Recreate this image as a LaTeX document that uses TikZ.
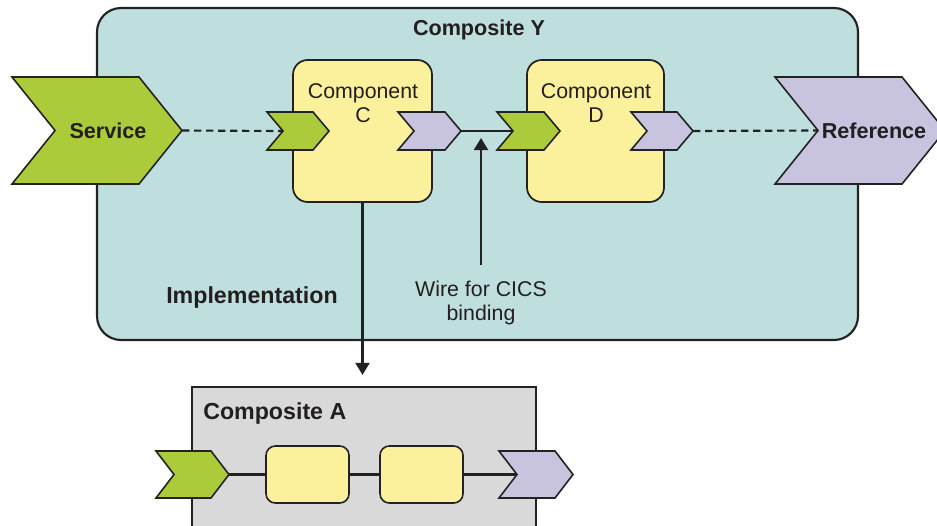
\documentclass[tikz,border=0pt]{standalone}
\usepackage{fontspec}
\setmainfont{Liberation Sans}
\usetikzlibrary{arrows.meta,calc}
\definecolor{cTeal}{HTML}{BFDFDE}
\definecolor{cGreen}{HTML}{ACCB3B}
\definecolor{cPurple}{HTML}{C8C4E0}
\definecolor{cYellow}{HTML}{FBF09C}
\definecolor{cGray}{HTML}{D9D9D9}
\definecolor{cLine}{HTML}{222222}
\definecolor{cText}{HTML}{231F20}
\newcommand\regtext{\fontsize{16}{17.5}\selectfont}
\newcommand\boldtext{\fontsize{16.2}{19}\selectfont\bfseries}
\newcommand\bigboldtext{\fontsize{17.4}{19}\selectfont\bfseries}
% name, x(left), y(center), width, height, point depth, colour
\newcommand\chevron[7]{%
  \filldraw[chevstyle, fill=#7]
    (#2,#3-#5/2) -- (#2+#4-#6,#3-#5/2) -- (#2+#4,#3) --
    (#2+#4-#6,#3+#5/2) -- (#2,#3+#5/2) -- (#2+#6,#3) -- cycle;
  \coordinate (#1-in) at (#2+#6,#3);
  \coordinate (#1-out) at (#2+#4,#3);
}
\tikzset{
  chevstyle/.style={draw=cLine, line width=1.2pt, line join=miter},
  outerbox/.style={draw=cLine, line width=1.6pt, fill=cTeal, rounded corners=18pt},
  graybox/.style={draw=cLine, line width=1.2pt, fill=cGray},
  compbox/.style={draw=cLine, line width=1.3pt, fill=cYellow, rounded corners=11pt, inner sep=0pt},
  smallbox/.style={draw=cLine, line width=1.2pt, fill=cYellow, rounded corners=7pt, inner sep=0pt},
  wire/.style={draw=cLine, line width=1.6pt},
  dashwire/.style={draw=cLine, line width=1.6pt, dash pattern=on 5.6pt off 3.4pt},
  arr/.style={draw=cLine, line width=1.6pt, -{Triangle[length=9pt,width=10.5pt]}},
  reglbl/.style={text=cText, font=\regtext, align=center, inner sep=0pt},
  boldlbl/.style={text=cText, font=\boldtext, align=center, inner sep=0pt},
  bigboldlbl/.style={text=cText, font=\bigboldtext, align=center, inner sep=0pt},
}
\begin{document}
\begin{tikzpicture}[x=0.75pt, y=-0.75pt]
\clip (0,0) rectangle (937,525);
\useasboundingbox (0,0) rectangle (937,525);

% Composite Y
\node[outerbox, minimum width=570.75pt, minimum height=249pt] (Y) at (477.5,174) {};
\node[boldlbl] (Ylbl) at (479,30) {Composite Y};

% Components
\node[compbox, minimum width=104.25pt, minimum height=106.5pt] (C) at (362.5,131) {};
\node[compbox, minimum width=102.75pt, minimum height=106.5pt] (D) at (595.5,131) {};
\node[reglbl] (Clbl) at (363,103) {Component\\C};
\node[reglbl] (Dlbl) at (596,103) {Component\\D};

% Composite A
\node[graybox, minimum width=258pt, minimum height=120pt] (A) at (364,467) {};
\node[bigboldlbl, anchor=west] (Albl) at (203,413) {Composite A};
\node[smallbox, minimum width=62.25pt, minimum height=42.75pt] (A1) at (307.5,474.5) {};
\node[smallbox, minimum width=62.25pt, minimum height=42.75pt] (A2) at (421.5,474.5) {};

% Chevrons
\chevron{S}{12}{130.5}{170}{107}{43}{cGreen}
\chevron{R}{775}{130.5}{170}{107}{43}{cPurple}
\chevron{Cin}{267}{131}{62}{38}{16}{cGreen}
\chevron{Cout}{398}{131}{63}{38}{16}{cPurple}
\chevron{Din}{497}{131}{63}{38}{16}{cGreen}
\chevron{Dout}{631}{131}{62}{38}{16}{cPurple}
\chevron{Ain}{156}{474.5}{73}{47}{18}{cGreen}
\chevron{Aout}{499}{474.5}{74}{47}{18}{cPurple}

\node[boldlbl] (Slbl) at (108,131) {Service};
\node[boldlbl] (Rlbl) at (874,131) {Reference};

% Connectors
\draw[dashwire] (S-out) -- (Cin-in);
\draw[wire] (Cout-out) -- (Din-in);
\draw[dashwire] (Dout-out) -- (R-in);
\draw[wire] (Ain-out) -- (A1.west);
\draw[wire] (A1.east) -- (A2.west);
\draw[wire] (A2.east) -- (Aout-in);

% Labels and arrows
\node[bigboldlbl] (Impl) at (252,297) {Implementation};
\node[reglbl] (Wlbl) at (481,303) {Wire for CICS\\binding};
\coordinate (wbot) at (481,265);
\coordinate (wtop) at (481,138);
\draw[arr] (wbot) -- (wtop);
\draw[arr, shorten >=8.5pt] (C.south) -- (C.south |- A.north);
\end{tikzpicture}
\end{document}
